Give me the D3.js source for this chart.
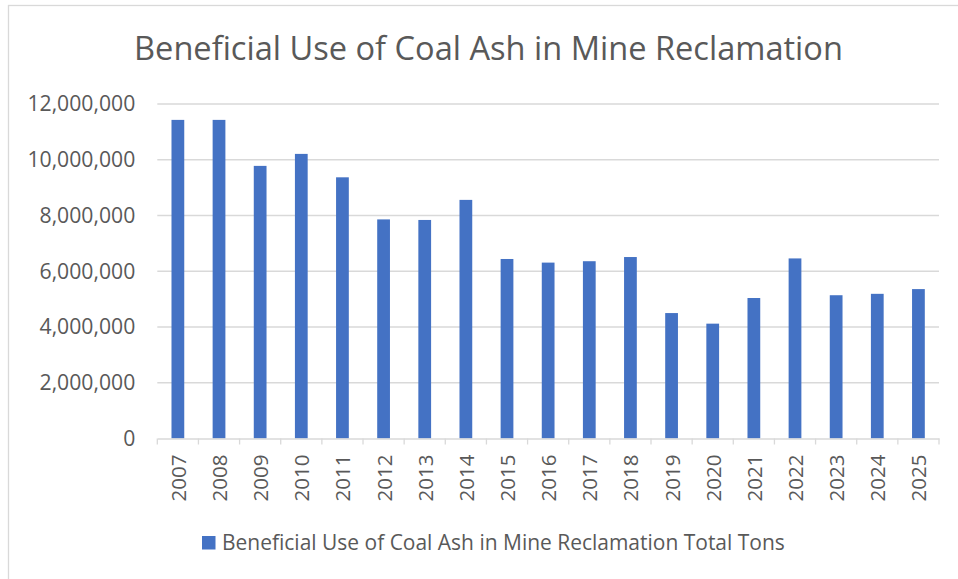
<!DOCTYPE html>
<html>
<head>
<meta charset="utf-8">
<script src="https://cdn.jsdelivr.net/npm/d3@7"></script>
<style>
  html, body { margin: 0; padding: 0; background: #fff; }
  svg { display: block; font-family: "Open Sans", "Noto Sans", sans-serif; }
</style>
</head>
<body>
<div id="chart"></div>
<script>
/* --- Data --- */
const years = ["2007", "2008", "2009", "2010", "2011", "2012", "2013", "2014", "2015", "2016",
               "2017", "2018", "2019", "2020", "2021", "2022", "2023", "2024", "2025"];
const tons = [11430000, 11430000, 9780000, 10210000, 9370000, 7860000, 7840000, 8560000, 6440000, 6310000,
              6360000, 6510000, 4500000, 4120000, 5040000, 6460000, 5140000, 5190000, 5360000];
const yTicks = [0, 2000000, 4000000, 6000000, 8000000, 10000000, 12000000];
const chartTitle = "Beneficial Use of Coal Ash in Mine Reclamation";
const seriesName = "Beneficial Use of Coal Ash in Mine Reclamation Total Tons";

/* --- Layout --- */
const W = 958, H = 579;
const margin = { top: 104, right: 19, bottom: 140.5, left: 157.3 };
const COLORS = { bar: "#4472C4", text: "#595959", grid: "#D9D9D9", border: "#D9D9D9" };
const FONT = "'Open Sans', 'Noto Sans', sans-serif";

const svg = d3.select("#chart").append("svg")
    .attr("width", W).attr("height", H);

// chart area border (only top and left edges visible in the frame)
svg.append("rect")
    .attr("x", 8.5).attr("y", 5.5)
    .attr("width", W + 20).attr("height", H + 20)
    .attr("fill", "#fff").attr("stroke", COLORS.border).attr("stroke-width", 1.3);

const innerW = W - margin.left - margin.right;
const innerH = H - margin.top - margin.bottom;

const g = svg.append("g").attr("transform", `translate(${margin.left},${margin.top})`);

// Scales
const x = d3.scaleBand().domain(years).range([0, innerW]).paddingInner(0.69).paddingOuter(0.345);
const y = d3.scaleLinear().domain([0, 12000000]).range([innerH, 0]);

// scale font size of a selection so its widest text spans the target width
function fitWidth(sel, target) {
    let len = 0;
    sel.each(function () { len = Math.max(len, this.getComputedTextLength()); });
    const fs = parseFloat(sel.attr("font-size"));
    sel.attr("font-size", fs * target / len);
}

// Gridlines
g.append("g")
    .selectAll("line")
    .data(yTicks.filter(d => d > 0))
    .join("line")
    .attr("x1", 0).attr("x2", innerW)
    .attr("y1", d => y(d)).attr("y2", d => y(d))
    .attr("stroke", COLORS.grid).attr("stroke-width", 1.3);

// Y axis labels
const yAxis = g.append("g")
    .call(d3.axisLeft(y).tickValues(yTicks).tickFormat(d3.format(",")).tickSize(0).tickPadding(22));
yAxis.select(".domain").remove();
const yLabels = yAxis.selectAll("text")
    .attr("fill", COLORS.text)
    .attr("font-size", 19)
    .style("font-family", FONT);
fitWidth(yLabels, 108);

// Bars
g.append("g")
    .selectAll("rect")
    .data(years.map((yr, i) => ({ yr, v: tons[i] })))
    .join("rect")
    .attr("x", d => x(d.yr))
    .attr("y", d => y(d.v))
    .attr("width", x.bandwidth())
    .attr("height", d => innerH - y(d.v))
    .attr("fill", COLORS.bar);

// X axis
const step = x.step();
const xAxis = g.append("g")
    .attr("transform", `translate(0,${innerH})`)
    .call(d3.axisBottom(x).tickSize(0).tickPadding(0));
xAxis.select(".domain").attr("stroke", COLORS.grid).attr("stroke-width", 1.3);
// category separator ticks
xAxis.selectAll("line.sep")
    .data(d3.range(years.length + 1))
    .join("line")
    .attr("class", "sep")
    .attr("x1", i => i * step).attr("x2", i => i * step)
    .attr("y1", 0).attr("y2", 6)
    .attr("stroke", COLORS.grid).attr("stroke-width", 1.3);
const xLabels = xAxis.selectAll(".tick text")
    .attr("fill", COLORS.text)
    .attr("font-size", 19)
    .style("font-family", FONT)
    .attr("transform", "rotate(-90)")
    .attr("text-anchor", "end")
    .attr("dominant-baseline", "central")
    .attr("x", -16)
    .attr("y", 0)
    .attr("dy", null);
fitWidth(xLabels, 47);

// Title
const title = svg.append("text")
    .attr("x", 488.5).attr("y", 60)
    .attr("text-anchor", "middle")
    .attr("fill", COLORS.text)
    .attr("font-size", 30)
    .text(chartTitle);
fitWidth(title, 709);

// Legend
const legend = svg.append("g");
legend.append("rect")
    .attr("x", 202).attr("y", 536)
    .attr("width", 13.5).attr("height", 13.5)
    .attr("fill", COLORS.bar);
const legendText = legend.append("text")
    .attr("x", 222).attr("y", 550)
    .attr("fill", COLORS.text)
    .attr("font-size", 19)
    .text(seriesName);
fitWidth(legendText, 563);
</script>
</body>
</html>
